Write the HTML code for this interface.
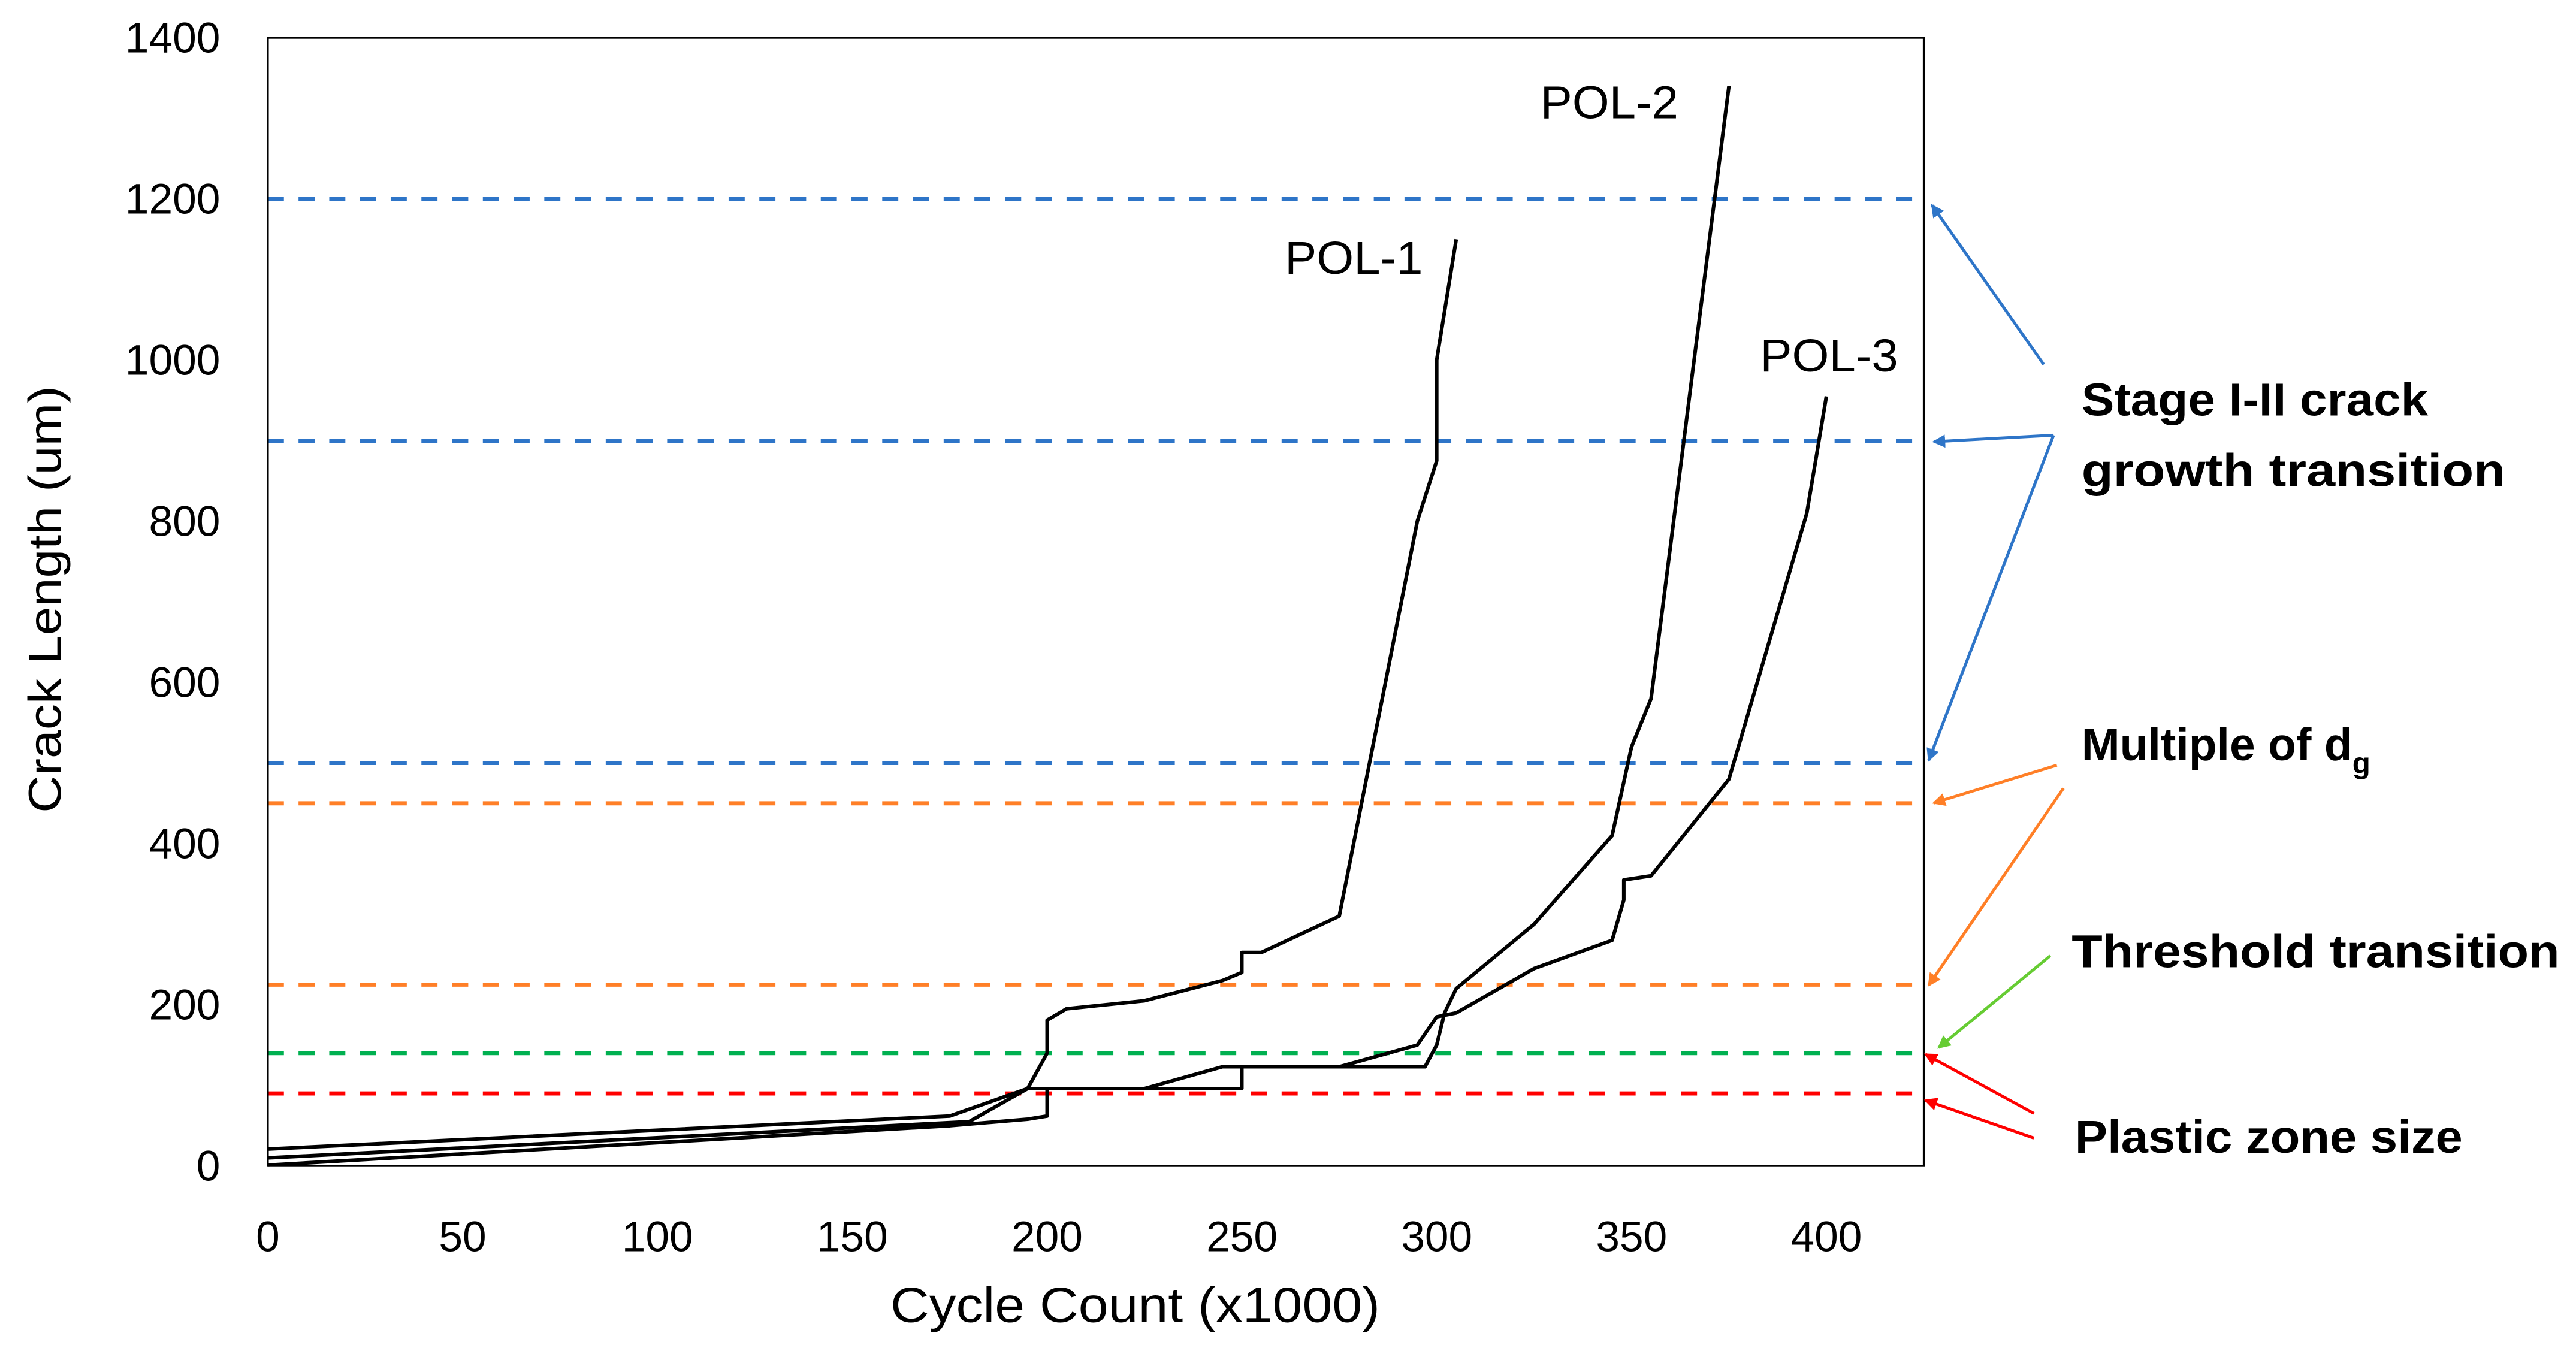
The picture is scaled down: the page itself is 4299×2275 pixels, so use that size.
<!DOCTYPE html>
<html><head><meta charset="utf-8"><style>
html,body{margin:0;padding:0;background:#fff;}
svg{display:block;}
</style></head><body>
<svg id="chart" width="4299" height="2275" viewBox="0 0 1568 830" preserveAspectRatio="none" xmlns="http://www.w3.org/2000/svg" font-family="'Liberation Sans', sans-serif">
<g id="grid"></g>
<rect x="163" y="23" width="1008" height="687" fill="none" stroke="#000" stroke-width="1.2"/>
<g id="series"></g>
<g id="ticks"></g>
<text x="542" y="805" font-size="30" textLength="298" lengthAdjust="spacingAndGlyphs">Cycle Count  (x1000)</text>
<text transform="translate(37,495) rotate(-90)" font-size="28" textLength="260" lengthAdjust="spacingAndGlyphs">Crack Length (um)</text>
<g font-weight="bold" font-size="28" fill="#000">
<text x="1267" y="253" textLength="211" lengthAdjust="spacingAndGlyphs">Stage I-II crack</text>
<text x="1267" y="296" textLength="258" lengthAdjust="spacingAndGlyphs">growth transition</text>
<text x="1267" y="463">Multiple of d<tspan font-size="18" dy="8">g</tspan></text>
<text x="1261" y="589" textLength="297" lengthAdjust="spacingAndGlyphs">Threshold transition</text>
<text x="1263" y="702" textLength="236" lengthAdjust="spacingAndGlyphs">Plastic zone size</text>
</g>
<defs>
<marker id="ab" markerWidth="8" markerHeight="8" refX="7" refY="4" orient="auto" markerUnits="userSpaceOnUse"><path d="M0,0 L8,4 L0,8 Z" fill="#2e75c8"/></marker>
<marker id="ao" markerWidth="8" markerHeight="8" refX="7" refY="4" orient="auto" markerUnits="userSpaceOnUse"><path d="M0,0 L8,4 L0,8 Z" fill="#ff7f27"/></marker>
<marker id="ag" markerWidth="8" markerHeight="8" refX="7" refY="4" orient="auto" markerUnits="userSpaceOnUse"><path d="M0,0 L8,4 L0,8 Z" fill="#66cc33"/></marker>
<marker id="ar" markerWidth="8" markerHeight="8" refX="7" refY="4" orient="auto" markerUnits="userSpaceOnUse"><path d="M0,0 L8,4 L0,8 Z" fill="#ff0000"/></marker>
</defs>
<g stroke-width="1.8" fill="none">
<line x1="1244" y1="222" x2="1176" y2="125" stroke="#2e75c8" marker-end="url(#ab)"/>
<line x1="1250" y1="265" x2="1177" y2="269" stroke="#2e75c8" marker-end="url(#ab)"/>
<line x1="1250" y1="265" x2="1174" y2="463" stroke="#2e75c8" marker-end="url(#ab)"/>
<line x1="1252" y1="466" x2="1177" y2="489" stroke="#ff7f27" marker-end="url(#ao)"/>
<line x1="1256" y1="480" x2="1174" y2="600" stroke="#ff7f27" marker-end="url(#ao)"/>
<line x1="1248" y1="582" x2="1180" y2="638" stroke="#66cc33" marker-end="url(#ag)"/>
<line x1="1238" y1="678" x2="1172" y2="642" stroke="#ff0000" marker-end="url(#ar)"/>
<line x1="1238" y1="693" x2="1172" y2="670" stroke="#ff0000" marker-end="url(#ar)"/>
</g>
</svg>
<script>
const xTicks = [0,50,100,150,200,250,300,350,400];
const yTicks = [0,200,400,600,800,1000,1200,1400];
const refValues = [1200,900,500,450,225,140,90];
const refColors = ["#2e75c8","#2e75c8","#2e75c8","#ff7f27","#ff7f27","#00b050","#ff0000"];
const seriesNames = ["POL-1","POL-2","POL-3"];
const pol1X = [0,175,195,200,200,205,225,245,250,250,255,275,295,300,300,305];
const pol1Y = [21,62,96,140,181,195,205,230,240,265,265,310,800,875,1000,1150];
const pol2X = [0,180,195,250,250,297,300,302,305,325,345,350,355,375];
const pol2Y = [10,55,96,96,123,123,150,190,220,300,410,520,580,1340];
const pol3X = [0,175,195,200,200,225,245,275,295,300,305,325,345,348,348,355,375,395,400];
const pol3Y = [1,50,58,62,96,96,123,123,150,185,190,245,280,330,355,360,480,810,955];
const labelPos = [[261,1107],[326.6,1300],[383,986]];

const NS="http://www.w3.org/2000/svg";
const X0=163,X1=1171,XMAX=425,Y0=710,Y1=23,YMAX=1400;
function sx(v){return X0+(X1-X0)*v/XMAX;}
function sy(v){return Y0-(Y0-Y1)*v/YMAX;}
function mk(tag,attrs,parent){const e=document.createElementNS(NS,tag);for(const k in attrs)e.setAttribute(k,attrs[k]);parent.appendChild(e);return e;}

const grid=document.getElementById('grid');
refValues.forEach((v,i)=>{
  const l=mk('line',{x1:X0,x2:X1,y1:sy(v),y2:sy(v),stroke:refColors[i],'stroke-width':2.5,'stroke-dasharray':'9.8 8.9'},grid);
  
  
});

const ticks=document.getElementById('ticks');
xTicks.forEach(v=>{
  const t=mk('text',{x:sx(v),y:762,'font-size':26,'text-anchor':'middle'},ticks);
  t.textContent=v;
  
  
});
yTicks.forEach(v=>{
  const t=mk('text',{x:134,y:sy(v)+9,'font-size':26,'text-anchor':'end'},ticks);
  t.textContent=v;
  
  
});

const series=document.getElementById('series');
[[pol1X,pol1Y],[pol2X,pol2Y],[pol3X,pol3Y]].forEach((s,i)=>{
  const pts=s[0].map((x,j)=>sx(x).toFixed(1)+','+sy(s[1][j]).toFixed(1)).join(' ');
  const p=mk('polyline',{points:pts,fill:'none',stroke:'#000','stroke-width':2.2,'stroke-linejoin':'round'},series);
  
  
  const t=mk('text',{x:sx(labelPos[i][0]),y:sy(labelPos[i][1]),'font-size':28,textLength:84,lengthAdjust:'spacingAndGlyphs'},series);
  t.textContent=seriesNames[i];
  
  
});
</script>
</body></html>
